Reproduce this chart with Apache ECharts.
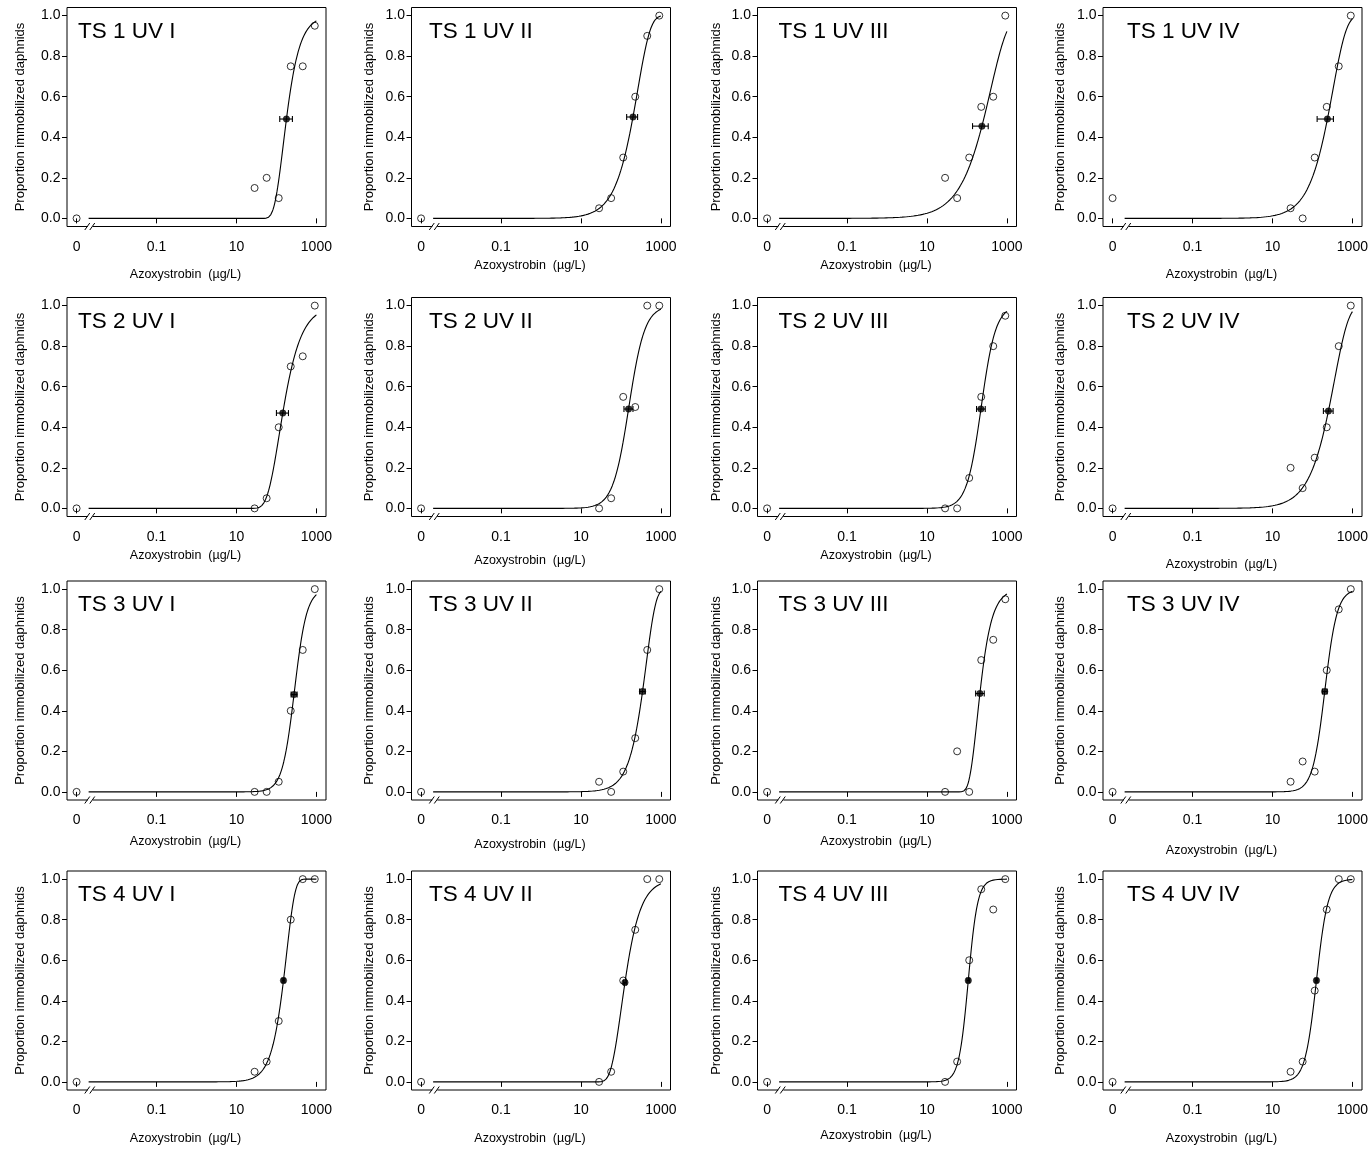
<!DOCTYPE html>
<html>
<head>
<meta charset="utf-8">
<script src="https://cdn.jsdelivr.net/npm/echarts@6/dist/echarts.min.js"></script>
<style>
  html, body { margin: 0; padding: 0; background: #fff; }
  #chart { width: 1372px; height: 1152px; }
</style>
</head>
<body>
<div id="chart"></div>
<script>
// Panels: test series (TS 1–4) × UV level (I–IV)
const panelTitles = [
  'TS 1 UV I', 'TS 1 UV II', 'TS 1 UV III', 'TS 1 UV IV',
  'TS 2 UV I', 'TS 2 UV II', 'TS 2 UV III', 'TS 2 UV IV',
  'TS 3 UV I', 'TS 3 UV II', 'TS 3 UV III', 'TS 3 UV IV',
  'TS 4 UV I', 'TS 4 UV II', 'TS 4 UV III', 'TS 4 UV IV'
];

// Azoxystrobin test concentrations (µg/L)
const concentrations = [28.4, 56.9, 114, 228, 455, 910];
// The control (0 µg/L) sits left of the axis break, at the "0" tick
const controlPosition = 0.001;
const axisBreakPosition = 0.0022;

const xTickValues = [0.001, 0.1, 10, 1000];
const xTickLabels = ['0', '0.1', '10', '1000'];
const yTickValues = [0, 0.2, 0.4, 0.6, 0.8, 1.0];

// Proportion of immobilized daphnids in the control
const controlResponse = [0, 0, 0, 0.1, 0, 0, 0, 0, 0, 0, 0, 0, 0, 0, 0, 0];

// Proportion immobilized at each concentration
const doseResponse = [
  [0.15, 0.20, 0.10, 0.75, 0.75, 0.95],
  [0.05, 0.10, 0.30, 0.60, 0.90, 1.00],
  [0.20, 0.10, 0.30, 0.55, 0.60, 1.00],
  [0.05, 0.00, 0.30, 0.55, 0.75, 1.00],
  [0.00, 0.05, 0.40, 0.70, 0.75, 1.00],
  [0.00, 0.05, 0.55, 0.50, 1.00, 1.00],
  [0.00, 0.00, 0.15, 0.55, 0.80, 0.95],
  [0.20, 0.10, 0.25, 0.40, 0.80, 1.00],
  [0.00, 0.00, 0.05, 0.40, 0.70, 1.00],
  [0.05, 0.00, 0.10, 0.265, 0.70, 1.00],
  [0.00, 0.20, 0.00, 0.65, 0.75, 0.95],
  [0.05, 0.15, 0.10, 0.60, 0.90, 1.00],
  [0.05, 0.10, 0.30, 0.80, 1.00, 1.00],
  [0.00, 0.05, 0.50, 0.75, 1.00, 1.00],
  [0.00, 0.10, 0.60, 0.95, 0.85, 1.00],
  [0.05, 0.10, 0.45, 0.85, 1.00, 1.00]
];

// EC50 estimates (µg/L) with 95 % confidence limits, and the fitted response there
const ec50 =       [178, 200, 237, 237, 144, 155, 224, 251, 275, 347, 211, 203, 150, 126, 108, 126];
const ec50Lower =  [121, 139, 138, 131, 100, 119, 174, 188, 233, 293, 165, 178, 139, 117, 100, 117];
const ec50Upper =  [251, 261, 341, 335, 200, 200, 287, 329, 329, 406, 271, 233, 162, 136, 117, 136];
const ec50Response = [0.49, 0.50, 0.455, 0.49, 0.47, 0.49, 0.49, 0.48,
                      0.48, 0.495, 0.485, 0.495, 0.50, 0.49, 0.50, 0.50];

// Fitted dose–response model per panel: LL = log-logistic,
// W1 / W2 = Weibull types; slope in log-units per decade of concentration
const fitModel = ['W1', 'W2', 'W2', 'W2', 'W1', 'LL', 'LL', 'W2',
                  'LL', 'W2', 'W1', 'LL', 'W2', 'W1', 'LL', 'LL'];
const fitSlope = [4.4, 3.1, 2.3, 2.9, 3.3, 5.0, 5.5, 2.8,
                  6.5, 4.1, 5.0, 6.5, 4.7, 3.8, 8.5, 7.0];
const fitRange = [0.002, 1000];

// ---- model evaluation ----
function linkValue(model, p) {
  if (model === 'LL') return Math.log(p / (1 - p));
  if (model === 'W1') return -Math.log(-Math.log(p));
  return Math.log(-Math.log(1 - p));
}
function inverseLink(model, u) {
  if (model === 'LL') return 1 / (1 + Math.exp(-u));
  if (model === 'W1') return Math.exp(-Math.exp(-u));
  return 1 - Math.exp(-Math.exp(u));
}
function fittedCurve(i) {
  const model = fitModel[i], k = fitSlope[i];
  const t0 = Math.log10(ec50[i]);
  const u0 = linkValue(model, ec50Response[i]);
  const a = Math.log10(fitRange[0]), b = Math.log10(fitRange[1]);
  const n = 300, pts = [];
  for (let j = 0; j <= n; j++) {
    const t = a + (b - a) * j / n;
    pts.push([Math.pow(10, t), inverseLink(model, u0 + k * (t - t0))]);
  }
  return pts;
}

// ---- layout ----
const FONT = "'Liberation Sans', Arial, Helvetica, sans-serif";
const colLeft = [67, 411.5, 757.5, 1103];
const rowTop = [7.5, 297.5, 581, 871];
const boxW = 259, boxH = 219;
const titleInset = [11, 17.5, 21, 24];
const yNameGap = [40, 36, 35, 36.5];
const xNameGap = [
  [42, 33, 33, 42],
  [33, 38, 33, 42],
  [35, 38, 35, 44],
  [42, 42, 39, 42]
];
const xMin = Math.pow(10, -3.24), xMax = Math.pow(10, 3.24);

const grids = [], xAxes = [], yAxes = [], series = [], graphics = [];

panelTitles.forEach((title, i) => {
  const r = Math.floor(i / 4), c = i % 4;
  const left = colLeft[c], top = rowTop[r];

  grids.push({
    left: left, top: top, width: boxW, height: boxH,
    show: true, borderColor: '#000', borderWidth: 1, backgroundColor: 'transparent'
  });

  xAxes.push({
    gridIndex: i, type: 'log', logBase: 10, min: xMin, max: xMax,
    axisLine: { show: false },
    splitLine: { show: false },
    minorTick: { show: false },
    axisTick: { show: true, inside: false, length: 5, customValues: xTickValues,
                lineStyle: { color: '#000', width: 1 } },
    axisLabel: {
      show: true, customValues: xTickValues, margin: 13.5,
      fontFamily: FONT, fontSize: 14, color: '#000',
      formatter: function (v) {
        let best = 0, d = Infinity;
        xTickValues.forEach((tv, j) => {
          const dd = Math.abs(Math.log10(tv) - Math.log10(v));
          if (dd < d) { d = dd; best = j; }
        });
        return xTickLabels[best];
      }
    },
    name: 'Azoxystrobin  (\u00b5g/L)',
    nameLocation: 'middle', nameGap: xNameGap[r][c],
    nameTextStyle: { fontFamily: FONT, fontSize: 12.5, color: '#000', padding: [0, 22, 0, 0] }
  });

  yAxes.push({
    gridIndex: i, type: 'value', min: -0.04, max: 1.04,
    axisLine: { show: false },
    splitLine: { show: false },
    axisTick: { show: true, inside: false, length: 5, customValues: yTickValues,
                lineStyle: { color: '#000', width: 1 } },
    axisLabel: {
      show: true, customValues: yTickValues, margin: 6.5,
      fontFamily: FONT, fontSize: 14, color: '#000',
      formatter: v => v.toFixed(1)
    },
    name: 'Proportion immobilized daphnids',
    nameLocation: 'middle', nameGap: yNameGap[c],
    nameTextStyle: { fontFamily: FONT, fontSize: 13, color: '#000' }
  });

  // fitted dose–response curve
  series.push({
    type: 'line', xAxisIndex: i, yAxisIndex: i,
    data: fittedCurve(i), showSymbol: false, smooth: false, silent: true,
    lineStyle: { color: '#000', width: 1.1 }, z: 2
  });

  // observed proportions: control plus each concentration
  const obs = [[controlPosition, controlResponse[i]]]
    .concat(concentrations.map((x, j) => [x, doseResponse[i][j]]));
  series.push({
    type: 'scatter', xAxisIndex: i, yAxisIndex: i, data: obs,
    symbol: 'circle', symbolSize: 7, silent: true,
    itemStyle: { color: 'rgba(255,255,255,0)', borderColor: '#000', borderWidth: 1 }, z: 3
  });

  // EC50 confidence interval
  series.push({
    type: 'custom', xAxisIndex: i, yAxisIndex: i, silent: true, z: 4,
    data: [[ec50Lower[i], ec50Upper[i], ec50Response[i]]],
    encode: { x: [0, 1], y: 2 },
    renderItem: function (params, api) {
      const p1 = api.coord([api.value(0), api.value(2)]);
      const p2 = api.coord([api.value(1), api.value(2)]);
      const h = 3;
      const st = { stroke: '#000', lineWidth: 1.1 };
      return {
        type: 'group',
        children: [
          { type: 'line', shape: { x1: p1[0], y1: p1[1], x2: p2[0], y2: p2[1] }, style: st },
          { type: 'line', shape: { x1: p1[0], y1: p1[1] - h, x2: p1[0], y2: p1[1] + h }, style: st },
          { type: 'line', shape: { x1: p2[0], y1: p2[1] - h, x2: p2[0], y2: p2[1] + h }, style: st }
        ]
      };
    }
  });

  // EC50 point
  series.push({
    type: 'scatter', xAxisIndex: i, yAxisIndex: i, silent: true, z: 5,
    data: [[ec50[i], ec50Response[i]]],
    symbol: 'circle', symbolSize: 6.5,
    itemStyle: { color: '#000', borderColor: '#000', borderWidth: 0.5 }
  });

  // axis break mark between the control and the log-scaled concentrations
  series.push({
    type: 'custom', xAxisIndex: i, yAxisIndex: i, silent: true, z: 6, clip: false,
    data: [[axisBreakPosition, -0.04]],
    renderItem: function (params, api) {
      const p = api.coord([api.value(0), api.value(1)]);
      const cx = p[0], cy = p[1];
      const st = { stroke: '#000', lineWidth: 1 };
      return {
        type: 'group',
        children: [
          { type: 'rect', shape: { x: cx - 2.5, y: cy - 1.5, width: 5, height: 3 },
            style: { fill: '#fff' } },
          { type: 'line', shape: { x1: cx - 5.5, y1: cy + 3.5, x2: cx - 0.5, y2: cy - 3.5 }, style: st },
          { type: 'line', shape: { x1: cx - 0.5, y1: cy + 3.5, x2: cx + 4.5, y2: cy - 3.5 }, style: st }
        ]
      };
    }
  });

  // panel label
  graphics.push({
    type: 'text', x: left + titleInset[c], y: top + 24, silent: true,
    style: { text: title, fontFamily: FONT, fontSize: 22.5, fill: '#000',
             align: 'left', verticalAlign: 'middle' }
  });
});

const chart = echarts.init(document.getElementById('chart'), null, { renderer: 'canvas' });
chart.setOption({
  animation: false,
  backgroundColor: '#fff',
  grid: grids,
  xAxis: xAxes,
  yAxis: yAxes,
  series: series,
  graphic: graphics
});
</script>
</body>
</html>
